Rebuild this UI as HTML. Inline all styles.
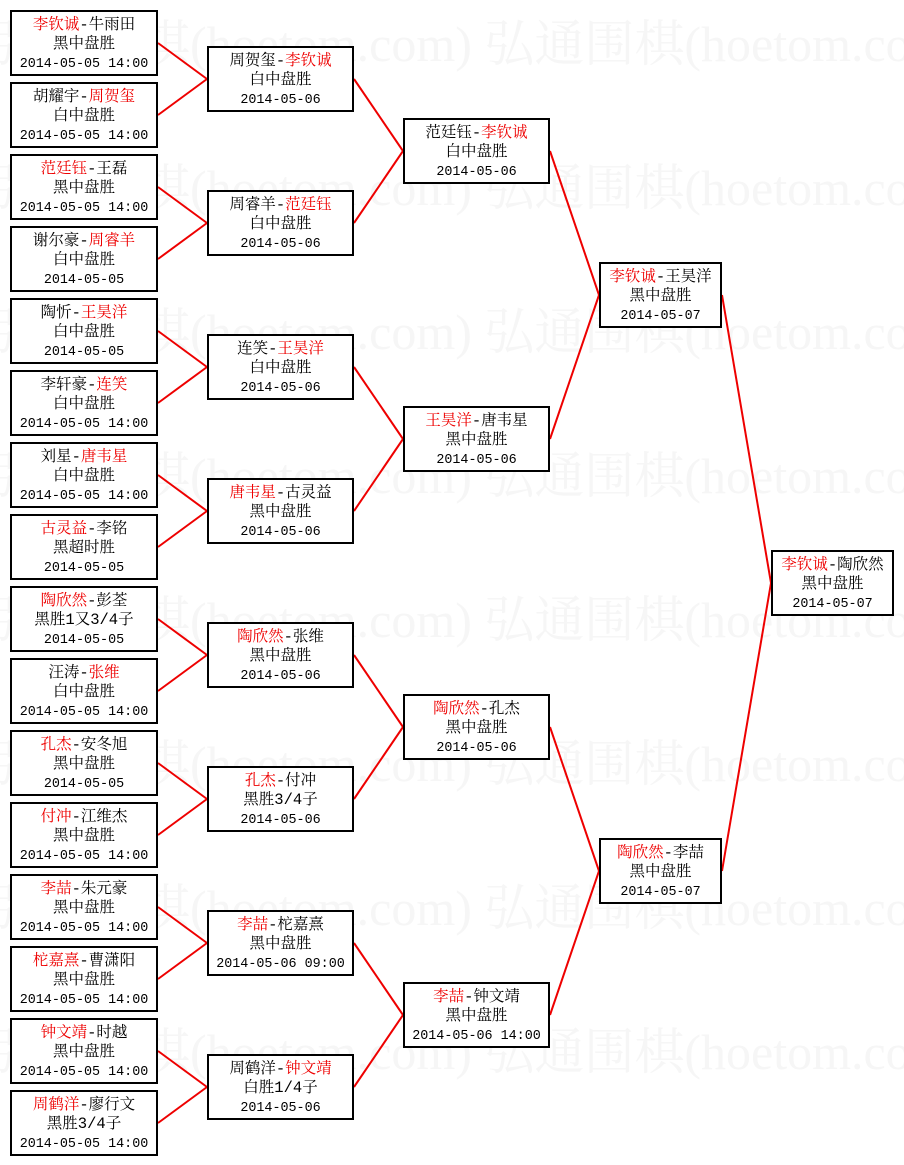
<!DOCTYPE html>
<html><head><meta charset="utf-8"><style>
body{margin:0;width:904px;height:1165px;background:#fff;position:relative;overflow:hidden;}
.wm{position:absolute;left:-10px;font-size:50px;color:#f6f6f6;white-space:nowrap;font-family:"Liberation Serif","Noto Serif CJK SC",serif;line-height:56px}
.b{position:absolute;height:66px;border:2px solid #000;box-sizing:border-box;background:#fff;text-align:center;font-size:15.5px;line-height:19px;padding-top:4px;color:#000;white-space:nowrap;font-family:"Liberation Mono","Noto Serif CJK SC",monospace}
.d{font-size:13.4px;font-family:"Liberation Mono",monospace}
.r{color:#e00}
.c1{left:10px;width:148px}.c2{left:207px;width:147px}.c3{left:403px;width:147px}.c4{left:599px;width:123px}.c5{left:771px;width:123px}
svg{position:absolute;left:0;top:0}
</style></head><body>
<div class="wm" style="top:16px">弘通围棋(hoetom.com) 弘通围棋(hoetom.com) 弘通围棋</div>
<div class="wm" style="top:160px">弘通围棋(hoetom.com) 弘通围棋(hoetom.com) 弘通围棋</div>
<div class="wm" style="top:304px">弘通围棋(hoetom.com) 弘通围棋(hoetom.com) 弘通围棋</div>
<div class="wm" style="top:448px">弘通围棋(hoetom.com) 弘通围棋(hoetom.com) 弘通围棋</div>
<div class="wm" style="top:592px">弘通围棋(hoetom.com) 弘通围棋(hoetom.com) 弘通围棋</div>
<div class="wm" style="top:736px">弘通围棋(hoetom.com) 弘通围棋(hoetom.com) 弘通围棋</div>
<div class="wm" style="top:880px">弘通围棋(hoetom.com) 弘通围棋(hoetom.com) 弘通围棋</div>
<div class="wm" style="top:1024px">弘通围棋(hoetom.com) 弘通围棋(hoetom.com) 弘通围棋</div>
<svg width="904" height="1165" id="s"></svg>

<div class="b c1" style="top:10px"><span class="r">李钦诚</span>-牛雨田<br>黑中盘胜<br><span class="d">2014-05-05 14:00</span></div>
<div class="b c1" style="top:82px">胡耀宇-<span class="r">周贺玺</span><br>白中盘胜<br><span class="d">2014-05-05 14:00</span></div>
<div class="b c1" style="top:154px"><span class="r">范廷钰</span>-王磊<br>黑中盘胜<br><span class="d">2014-05-05 14:00</span></div>
<div class="b c1" style="top:226px">谢尔豪-<span class="r">周睿羊</span><br>白中盘胜<br><span class="d">2014-05-05</span></div>
<div class="b c1" style="top:298px">陶忻-<span class="r">王昊洋</span><br>白中盘胜<br><span class="d">2014-05-05</span></div>
<div class="b c1" style="top:370px">李轩豪-<span class="r">连笑</span><br>白中盘胜<br><span class="d">2014-05-05 14:00</span></div>
<div class="b c1" style="top:442px">刘星-<span class="r">唐韦星</span><br>白中盘胜<br><span class="d">2014-05-05 14:00</span></div>
<div class="b c1" style="top:514px"><span class="r">古灵益</span>-李铭<br>黑超时胜<br><span class="d">2014-05-05</span></div>
<div class="b c1" style="top:586px"><span class="r">陶欣然</span>-彭荃<br>黑胜1又3/4子<br><span class="d">2014-05-05</span></div>
<div class="b c1" style="top:658px">汪涛-<span class="r">张维</span><br>白中盘胜<br><span class="d">2014-05-05 14:00</span></div>
<div class="b c1" style="top:730px"><span class="r">孔杰</span>-安冬旭<br>黑中盘胜<br><span class="d">2014-05-05</span></div>
<div class="b c1" style="top:802px"><span class="r">付冲</span>-江维杰<br>黑中盘胜<br><span class="d">2014-05-05 14:00</span></div>
<div class="b c1" style="top:874px"><span class="r">李喆</span>-朱元豪<br>黑中盘胜<br><span class="d">2014-05-05 14:00</span></div>
<div class="b c1" style="top:946px"><span class="r">柁嘉熹</span>-曹潇阳<br>黑中盘胜<br><span class="d">2014-05-05 14:00</span></div>
<div class="b c1" style="top:1018px"><span class="r">钟文靖</span>-时越<br>黑中盘胜<br><span class="d">2014-05-05 14:00</span></div>
<div class="b c1" style="top:1090px"><span class="r">周鹤洋</span>-廖行文<br>黑胜3/4子<br><span class="d">2014-05-05 14:00</span></div>

<div class="b c2" style="top:46px">周贺玺-<span class="r">李钦诚</span><br>白中盘胜<br><span class="d">2014-05-06</span></div>
<div class="b c2" style="top:190px">周睿羊-<span class="r">范廷钰</span><br>白中盘胜<br><span class="d">2014-05-06</span></div>
<div class="b c2" style="top:334px">连笑-<span class="r">王昊洋</span><br>白中盘胜<br><span class="d">2014-05-06</span></div>
<div class="b c2" style="top:478px"><span class="r">唐韦星</span>-古灵益<br>黑中盘胜<br><span class="d">2014-05-06</span></div>
<div class="b c2" style="top:622px"><span class="r">陶欣然</span>-张维<br>黑中盘胜<br><span class="d">2014-05-06</span></div>
<div class="b c2" style="top:766px"><span class="r">孔杰</span>-付冲<br>黑胜3/4子<br><span class="d">2014-05-06</span></div>
<div class="b c2" style="top:910px"><span class="r">李喆</span>-柁嘉熹<br>黑中盘胜<br><span class="d">2014-05-06 09:00</span></div>
<div class="b c2" style="top:1054px">周鹤洋-<span class="r">钟文靖</span><br>白胜1/4子<br><span class="d">2014-05-06</span></div>

<div class="b c3" style="top:118px">范廷钰-<span class="r">李钦诚</span><br>白中盘胜<br><span class="d">2014-05-06</span></div>
<div class="b c3" style="top:406px"><span class="r">王昊洋</span>-唐韦星<br>黑中盘胜<br><span class="d">2014-05-06</span></div>
<div class="b c3" style="top:694px"><span class="r">陶欣然</span>-孔杰<br>黑中盘胜<br><span class="d">2014-05-06</span></div>
<div class="b c3" style="top:982px"><span class="r">李喆</span>-钟文靖<br>黑中盘胜<br><span class="d">2014-05-06 14:00</span></div>

<div class="b c4" style="top:262px"><span class="r">李钦诚</span>-王昊洋<br>黑中盘胜<br><span class="d">2014-05-07</span></div>
<div class="b c4" style="top:838px"><span class="r">陶欣然</span>-李喆<br>黑中盘胜<br><span class="d">2014-05-07</span></div>

<div class="b c5" style="top:550px"><span class="r">李钦诚</span>-陶欣然<br>黑中盘胜<br><span class="d">2014-05-07</span></div>

<script>
var s=document.getElementById('s'),h='';
function L(x1,y1,x2,y2){h+='<line x1="'+x1+'" y1="'+y1+'" x2="'+x2+'" y2="'+y2+'" stroke="#e00" stroke-width="2"/>';}
var cols=[[158,10,72,16],[354,46,144,8],[550,118,288,4],[722,262,576,2]];
var lefts=[207,403,599,771];
for(var c=0;c<4;c++){var C=cols[c];for(var i=0;i<C[3];i++){var cy=C[1]+33+C[2]*i;var j=Math.floor(i/2);var ny=C[1]+C[2]/2+33+C[2]*2*j;L(C[0],cy,lefts[c],ny);}}
s.innerHTML=h;
</script>
</body></html>
